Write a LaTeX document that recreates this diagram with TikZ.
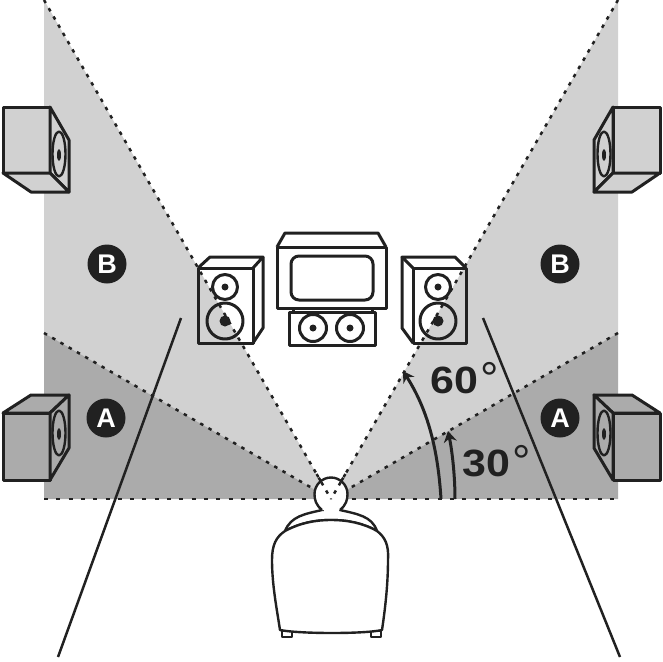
\documentclass[tikz,border=0pt]{standalone}
\usepackage{fontspec}
\usepackage{graphicx}
\setmainfont{Liberation Sans}
\usetikzlibrary{arrows.meta,calc}
\definecolor{ink}{gray}{0.13}
\definecolor{zoneb}{gray}{0.82}
\definecolor{zonea}{gray}{0.67}
\tikzset{
  part/.style={draw=ink,line width=3pt,line join=round},
  seatline/.style={draw=ink,line width=2.4pt,line join=round},
  sightline/.style={ink,line width=2.5pt,dash pattern=on 3.5pt off 6pt},
  floorline/.style={ink,line width=2.5pt,dash pattern=on 4pt off 8.3pt},
  pointer/.style={ink,line width=2.5pt},
  sweep/.style={ink,line width=3pt,-{Stealth[length=11pt,width=13pt]}},
  badge/.style={circle,fill=ink,text=white,minimum size=39pt,inner sep=0pt,font=\fontsize{27}{27}\selectfont\bfseries},
  angle/.style={text=ink,inner sep=0pt,font=\fontsize{38}{38}\selectfont\bfseries},
  ring/.style={text=ink,inner sep=0pt,font=\fontsize{46}{46}\selectfont}
}
% rear speaker, left hand version, #1 = fill
\newcommand{\rearbox}[1]{
  \draw[part,fill=#1] (3,107) rectangle (50,173);
  \draw[part,fill=#1] (50,107) -- (69,140) -- (69,192) -- (50,173) -- cycle;
  \draw[part,fill=#1] (3,173) -- (31,192) -- (69,192) -- (50,173) -- cycle;
  \draw[seatline] (59,154) ellipse [x radius=6.5,y radius=22.5];
  \fill[ink] (59,155) ellipse [x radius=2,y radius=6];
}
\newcommand{\surroundbox}[1]{
  \draw[part,fill=#1] (3,413) rectangle (50,480);
  \draw[part,fill=#1] (3,413) -- (31,395) -- (69,395) -- (50,413) -- cycle;
  \draw[part,fill=#1] (50,413) -- (69,395) -- (69,448) -- (50,480) -- cycle;
  \draw[seatline] (59,433) ellipse [x radius=6.5,y radius=22.5];
  \fill[ink] (59,434) ellipse [x radius=2,y radius=6];
}
\begin{document}
\begin{tikzpicture}[x=1pt,y=-1pt]
\useasboundingbox (0,0) rectangle (662,662);
\coordinate (seat) at (331,499);
\coordinate (farL) at (44,0);
\coordinate (farR) at (618,0);
\coordinate (midL) at (44,333);
\coordinate (midR) at (618,333);
\coordinate (lowL) at (44,499);
\coordinate (lowR) at (618,499);
% zones
\fill[zoneb] (farL) -- (seat) -- (midL) -- cycle;
\fill[zoneb] (farR) -- (seat) -- (midR) -- cycle;
\fill[zonea] (midL) -- (seat) -- (lowL) -- cycle;
\fill[zonea] (midR) -- (seat) -- (lowR) -- cycle;
\draw[floorline] (lowL) -- (lowR);
\draw[sightline] (midL) -- (seat);
\draw[sightline] (midR) -- (seat);
\draw[sightline] (farL) -- (seat);
\draw[sightline] (farR) -- (seat);
% rear speakers
\rearbox{zoneb}
\surroundbox{zonea}
\begin{scope}[xshift=663pt,xscale=-1]
\rearbox{zoneb}
\surroundbox{zonea}
\end{scope}
% front speakers
\draw[part] (198,268) rectangle (253,343);
\draw[part] (198,268) -- (210,257) -- (263,257) -- (253,268);
\draw[part] (263,257) -- (263,328) -- (253,343);
\draw[part] (225,287) circle [radius=12.5];
\fill[ink] (225,287) circle [radius=3.5];
\draw[part] (225,321) circle [radius=18];
\fill[ink] (225,321) circle [radius=5.5];
\draw[part] (413,268) rectangle (466,343);
\draw[part] (413,268) -- (402,257) -- (455,257) -- (466,268);
\draw[part] (402,257) -- (402,328) -- (413,343);
\draw[part] (438,287) circle [radius=12.5];
\fill[ink] (438,287) circle [radius=3.5];
\draw[part] (438,321) circle [radius=18];
\fill[ink] (438,321) circle [radius=5.5];
% tv
\draw[part] (277,247) rectangle (386,308);
\draw[part] (277,247) -- (285,233) -- (378,233) -- (386,247);
\draw[part,rounded corners=8pt] (291,256) rectangle (373,300);
% centre speaker
\draw[part] (289,312) rectangle (375,345);
\draw[part] (293,312) -- (293,308);
\draw[part] (372,312) -- (372,308);
\draw[part] (313,328) circle [radius=13.5];
\fill[ink] (313,328) circle [radius=3.5];
\draw[part] (350,328) circle [radius=13.5];
\fill[ink] (350,328) circle [radius=3.5];
% chair and listener
\draw[seatline,fill=white] (322,510) .. controls (305,514) and (291,516) .. (285,531)
  .. controls (300,523) and (315,520) .. (331,520)
  .. controls (347,520) and (363,523) .. (377,531)
  .. controls (372,516) and (357,514) .. (340,510) -- cycle;
\draw[seatline,fill=white] (282,631) rectangle (292,637);
\draw[seatline,fill=white] (371,631) rectangle (381,637);
\draw[seatline,fill=white] (285,531) .. controls (300,523) and (315,520) .. (331,520)
  .. controls (347,520) and (363,523) .. (377,531)
  .. controls (385,537) and (389,545) .. (388,560)
  .. controls (388,585) and (385,610) .. (382,630)
  .. controls (365,634) and (300,634) .. (280,630)
  .. controls (277,610) and (272,585) .. (272,560)
  .. controls (272,545) and (276,537) .. (285,531) -- cycle;
\draw[seatline,fill=white] (322,510) .. controls (316,505) and (314.5,500) .. (314.5,494)
  .. controls (314.5,485) and (322,477.5) .. (331,477.5)
  .. controls (340,477.5) and (347.5,485) .. (347.5,494)
  .. controls (347.5,500) and (346,505) .. (340,510);
\fill[white] (323.5,508) rectangle (338.5,512);
\draw[sightline] ($(farL)!0.95!(seat)$) -- (seat);
\draw[sightline] ($(farR)!0.95!(seat)$) -- (seat);
% labels
\node[badge] (bleft) at (107,264) {B};
\node[badge] (bright) at (560,264) {B};
\node[badge] (aleft) at (106,418) {A};
\node[badge] (aright) at (560,418) {A};
\coordinate (zoneL) at (181,318);
\coordinate (zoneR) at (483,318);
\coordinate (tailL) at (58,657);
\coordinate (tailR) at (620,657);
\draw[pointer] (zoneL) -- (tailL);
\draw[pointer] (zoneR) -- (tailR);
\coordinate (base60) at (441,499);
\coordinate (base30) at (455,499);
\coordinate (tip60) at (403,371);
\coordinate (tip30) at (448,431);
\draw[sweep] (base60) .. controls (438,450) and (428,410) .. (tip60);
\draw[sweep] (base30) .. controls (455,475) and (452,450) .. (tip30);
\node[angle,anchor=base west] (sixty) at (430,393) {\scalebox{1.13}[1]{60}};
\node[ring,anchor=base west] (ringsixty) at (480,394) {°};
\node[angle,anchor=base west] (thirty) at (462,476) {\scalebox{1.13}[1]{30}};
\node[ring,anchor=base west] (ringthirty) at (512,477) {°};
\end{tikzpicture}
\end{document}
